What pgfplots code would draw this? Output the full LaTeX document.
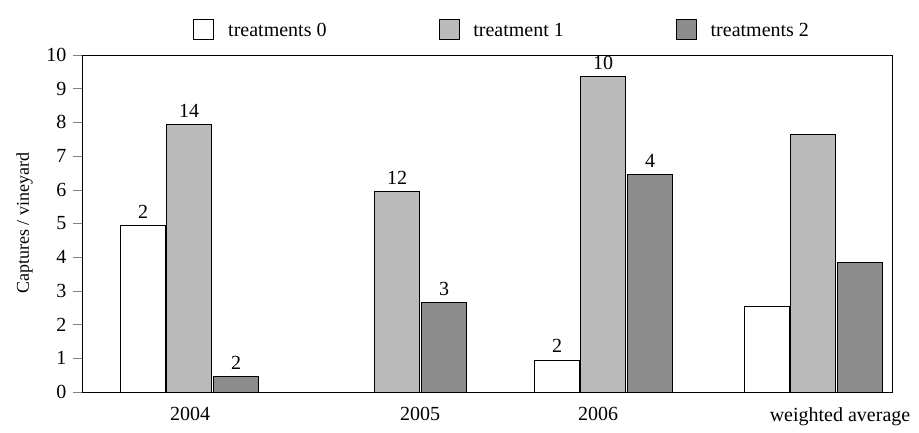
\documentclass[border=0pt]{standalone}
\usepackage{pgfplots}
\pgfplotsset{compat=1.18}
\usepackage{fontspec}
\setmainfont{Liberation Serif}
\begin{document}
\begin{tikzpicture}[x=0.5pt,y=0.5pt]
\path (0,0) rectangle (919,427);
\begin{axis}[at={(82pt*0.5,35pt*0.5)},anchor=south west,
 scale only axis, width=405pt, height=168.5pt,
 xmin=82, xmax=892, ymin=0, ymax=10,
 ytick={0,...,10}, ylabel={Captures / vineyard}, ylabel style={font=\small},
 xtick={190,420,598,840}, xticklabels={2004,2005,2006,weighted average},
 tick label style={font=\normalsize}, /pgf/number format/assume math mode=true,
 xtick style={draw=none}, ytick align=outside, ytick pos=left,
 ybar, bar width=22.5pt, bar shift=0pt,
 nodes near coords={\pgfplotspointmeta}, point meta=explicit symbolic,
 every node near coord/.style={font=\normalsize,black,anchor=south},
 legend style={at={(0.52,1.02)},anchor=south,draw=none,legend columns=3,font=\normalsize,
   /tikz/every odd column/.style={column sep=5pt},
   /tikz/every even column/.style={column sep=54pt}},
 legend image code/.code={\draw[#1,draw=black] (0pt,-4pt) rectangle (10pt,6pt);},
 ]
\addplot[fill=white,draw=black] coordinates {(143,4.95)[2] (557,0.95)[2] (767,2.55)[]};
\addplot[fill=black!27,draw=black] coordinates {(189,7.95)[14] (397,5.95)[12] (603,9.35)[10] (813,7.65)[]};
\addplot[fill=black!45,draw=black] coordinates {(236,0.45)[2] (444,2.65)[3] (650,6.45)[4] (860,3.85)[]};
\legend{treatments 0,treatment 1,treatments 2}
\end{axis}
\end{tikzpicture}
\end{document}
